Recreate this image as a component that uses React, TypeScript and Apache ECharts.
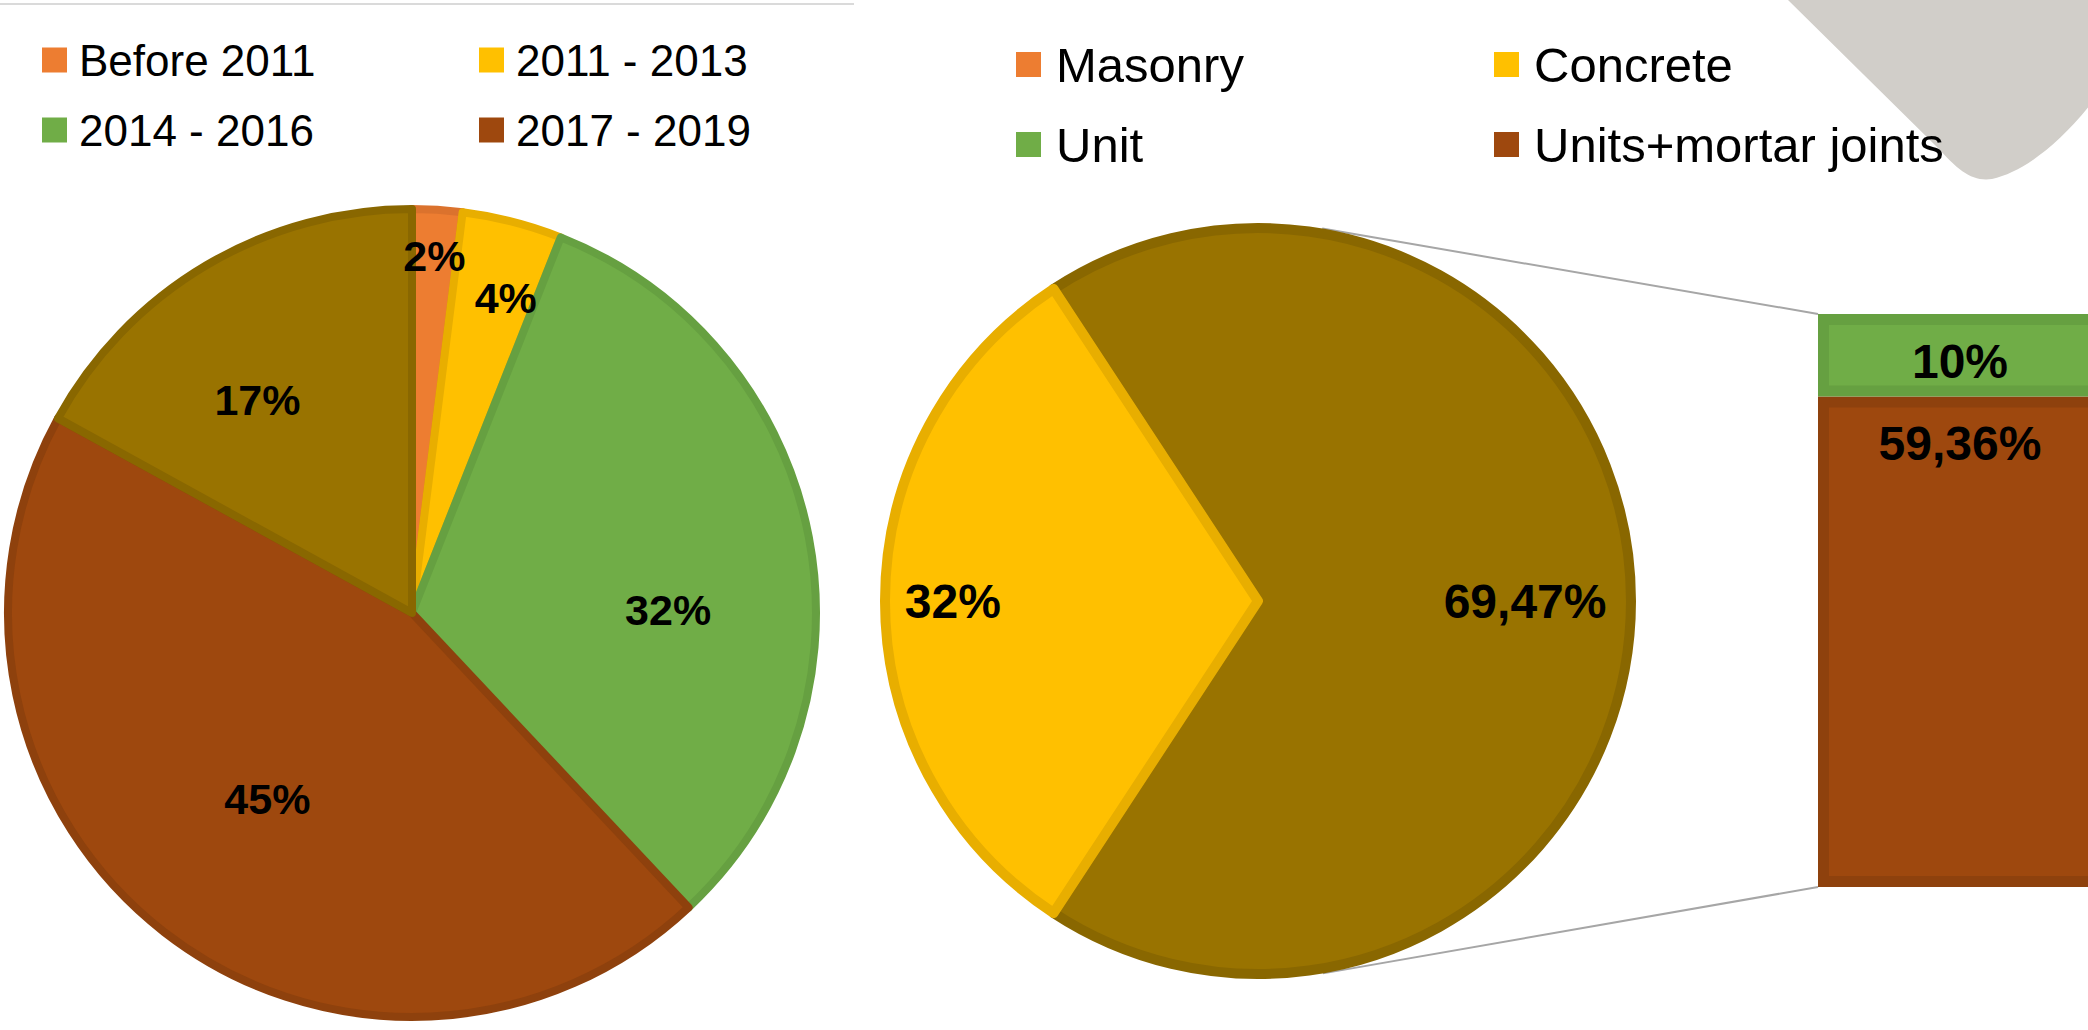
import React, { useEffect, useRef } from "react";
import * as echarts from "echarts";

// ---------- DATA ----------
const leftCategories = ["Before 2011", "2011 - 2013", "2014 - 2016", "2017 - 2019", "Other"];
const leftValues = [2, 4, 32, 45, 17];

const rightPieCategories = ["Other", "Concrete"];
const rightPieValues = [69.47, 32];

const barCategories = ["Units+mortar joints", "Unit", "Masonry"];
const barValues: (number | null)[] = [59.36, 10, null];

const leftLegendCols = [
  ["Before 2011", "2014 - 2016"],
  ["2011 - 2013", "2017 - 2019"],
];
const rightLegendCols = [
  ["Masonry", "Unit"],
  ["Concrete", "Units+mortar joints"],
];

// ---------- STYLE / LAYOUT ----------
const FONT = "'Liberation Sans', Arial, Helvetica, sans-serif";
const FILL: Record<string, string> = {
  "Before 2011": "#ED7D31",
  "2011 - 2013": "#FFC000",
  "2014 - 2016": "#70AD47",
  "2017 - 2019": "#9E480E",
  Other: "#997300",
  Masonry: "#ED7D31",
  Concrete: "#FFC000",
  Unit: "#70AD47",
  "Units+mortar joints": "#9E480E",
};
const EDGE: Record<string, string> = {
  "Before 2011": "#DB722D",
  "2011 - 2013": "#E8AE00",
  "2014 - 2016": "#66A041",
  "2017 - 2019": "#8E410D",
  Other: "#896700",
  Masonry: "#DB722D",
  Concrete: "#E8AE00",
  Unit: "#66A041",
  "Units+mortar joints": "#8E410D",
};

const LEFT_PIE = { cx: 412, cy: 613, r: 404, border: 8, font: 43 };
const RIGHT_PIE = { cx: 1258, cy: 601, r: 373, border: 10, font: 48 };
// bar: left edge, top edge, full width (runs past the picture's right edge), width the labels centre on
const BAR = { left: 1818, top: 314, width: 340, labelWidth: 284, height: 573, border: 11, font: 48 };
// label placement inside the pies: fraction of radius, and angular nudge (in value units)
const leftLabelRadius = [0.885, 0.814, 0.634, 0.584, 0.651];
const leftLabelNudge = [0, 0.6, 2.8, 0, -1.5];
const rightLabelRadius = [0.716, 0.818];

const SHAPE_D =
  "M1788,0 L1938,148 C1958,170 1972,182 1992,179 C2025,172 2065,140 2100,92 L2100,0 Z";
try {
  echarts.graphic.registerShape("bgshape", echarts.graphic.extendPath(SHAPE_D, {}) as any);
} catch (e) {}

const fmt = (v: number) => String(v).replace(".", ",") + "%";

function tangentPoint(cx: number, cy: number, R: number, px: number, py: number, sign: number) {
  const dx = px - cx;
  const dy = py - cy;
  const d = Math.hypot(dx, dy);
  const ang = Math.atan2(dy, dx) + sign * Math.acos(R / d);
  return [cx + R * Math.cos(ang), cy + R * Math.sin(ang)];
}

function midValues(values: number[]) {
  const out: number[] = [];
  let acc = 0;
  values.forEach((v) => {
    out.push(acc + v / 2);
    acc += v;
  });
  return out;
}

function legendCol(data: string[], left: number, top: number, font: number, size: number, gap: number, pad: number) {
  return {
    data,
    left,
    top,
    orient: "vertical",
    icon: "rect",
    itemWidth: size,
    itemHeight: size,
    itemGap: gap,
    selectedMode: false,
    itemStyle: { borderWidth: 0 },
    textStyle: { fontSize: font, fontFamily: FONT, color: "#000", padding: [0, 0, 0, pad] },
  };
}

function labelScatter(polarIndex: number, texts: string[], radii: number[], angles: number[], font: number) {
  return {
    type: "scatter",
    coordinateSystem: "polar",
    polarIndex,
    silent: true,
    symbolSize: 1,
    itemStyle: { color: "rgba(0,0,0,0)", opacity: 1 },
    z: 6,
    data: texts.map((t, i) => ({ value: [radii[i], angles[i]], name: t })),
    label: {
      show: true,
      position: "inside",
      formatter: (p: any) => p.name,
      fontSize: font,
      fontWeight: "bold",
      fontFamily: FONT,
      color: "#000",
      opacity: 1,
    },
  };
}

export default function App() {
  const ref = useRef<HTMLDivElement>(null);

  useEffect(() => {
    if (!ref.current) return;
    const chart = echarts.init(ref.current, undefined, { renderer: "svg", width: 2088, height: 1030 });

    const leftSum = leftValues.reduce((a, b) => a + b, 0);
    const rightSum = rightPieValues.reduce((a, b) => a + b, 0);
    const rightStart = ((rightPieValues[0] / rightSum) * 360) / 2;
    const barTotal = barValues.reduce((a: number, b) => a + (b ?? 0), 0);

    const leftMids = midValues(leftValues).map((m, i) => m + leftLabelNudge[i]);
    const rightMids = midValues(rightPieValues);

    // the bar sits on the 2nd category, which is at the grid's right edge (boundaryGap false)
    const barCenter = BAR.left + BAR.width / 2;
    const gridWidth = 200;
    const gridLeft = barCenter - gridWidth;
    const labelShift = (BAR.labelWidth - BAR.width) / 2;

    const series: any[] = [];
    series.push({
      type: "pie",
      silent: true,
      center: [LEFT_PIE.cx, LEFT_PIE.cy],
      radius: [0, LEFT_PIE.r],
      startAngle: 90,
      clockwise: true,
      z: 2,
      data: leftCategories.map((n, i) => ({
        name: n,
        value: leftValues[i],
        itemStyle: { color: FILL[n], borderColor: EDGE[n], borderWidth: LEFT_PIE.border },
      })),
      label: { show: false },
      labelLine: { show: false },
    });
    series.push({
      type: "pie",
      silent: true,
      center: [RIGHT_PIE.cx, RIGHT_PIE.cy],
      radius: [0, RIGHT_PIE.r],
      startAngle: rightStart,
      clockwise: true,
      z: 2,
      data: rightPieCategories.map((n, i) => ({
        name: n,
        value: rightPieValues[i],
        itemStyle: { color: FILL[n], borderColor: EDGE[n], borderWidth: RIGHT_PIE.border },
      })),
      label: { show: false },
      labelLine: { show: false },
    });
    barCategories.forEach((n, i) => {
      series.push({
        type: "bar",
        name: n,
        stack: "bar",
        silent: true,
        clip: false,
        barWidth: BAR.width,
        data: [null, barValues[i]],
        z: 2,
        itemStyle: { color: FILL[n], borderColor: EDGE[n], borderWidth: BAR.border },
        label: {
          show: n !== "Masonry",
          position: n === "Unit" ? "inside" : "insideTop",
          distance: 23,
          offset: [labelShift, n === "Unit" ? 6 : 0],
          formatter: (p: any) => fmt(p.value),
          fontSize: BAR.font,
          fontWeight: "bold",
          fontFamily: FONT,
          color: "#000",
        },
      });
    });
    series.push(labelScatter(0, leftValues.map(fmt), leftLabelRadius, leftMids, LEFT_PIE.font));
    series.push(labelScatter(1, rightPieValues.map(fmt), rightLabelRadius, rightMids, RIGHT_PIE.font));

    // bar borders are drawn inside the bar, so its outer corners are the layout corners
    const R = RIGHT_PIE.r + RIGHT_PIE.border / 2;
    const cTop = [BAR.left, BAR.top];
    const cBot = [BAR.left, BAR.top + BAR.height];
    const tTop = tangentPoint(RIGHT_PIE.cx, RIGHT_PIE.cy, R, cTop[0], cTop[1], -1);
    const tBot = tangentPoint(RIGHT_PIE.cx, RIGHT_PIE.cy, R, cBot[0], cBot[1], 1);

    chart.setOption({
      animation: false,
      backgroundColor: "#ffffff",
      textStyle: { fontFamily: FONT },
      grid: {
        left: gridLeft,
        top: BAR.top,
        width: gridWidth,
        height: BAR.height,
        outerBoundsMode: "none",
        containLabel: false,
      },
      xAxis: { type: "category", data: ["", "Other"], boundaryGap: false, show: false },
      yAxis: { type: "value", min: 0, max: barTotal, show: false },
      polar: [
        { center: [LEFT_PIE.cx, LEFT_PIE.cy], radius: LEFT_PIE.r },
        { center: [RIGHT_PIE.cx, RIGHT_PIE.cy], radius: RIGHT_PIE.r },
      ],
      angleAxis: [
        { polarIndex: 0, type: "value", min: 0, max: leftSum, startAngle: 90, clockwise: true, show: false },
        { polarIndex: 1, type: "value", min: 0, max: rightSum, startAngle: rightStart, clockwise: true, show: false },
      ],
      radiusAxis: [
        { polarIndex: 0, type: "value", min: 0, max: 1, show: false },
        { polarIndex: 1, type: "value", min: 0, max: 1, show: false },
      ],
      legend: [
        legendCol(leftLegendCols[0], 37, 33, 44, 25, 26, 7),
        legendCol(leftLegendCols[1], 474, 33, 44, 25, 26, 7),
        legendCol(rightLegendCols[0], 1011, 35, 49, 25, 31, 10),
        legendCol(rightLegendCols[1], 1489, 35, 49, 25, 31, 10),
      ],
      graphic: {
        elements: [
          { type: "bgshape", z: 0, silent: true, style: { fill: "#D1CEC9" } },
          {
            type: "line",
            z: 0,
            silent: true,
            shape: { x1: 0, y1: 4, x2: 854, y2: 4 },
            style: { stroke: "#DADADA", lineWidth: 2 },
          },
          {
            type: "line",
            z: 1,
            silent: true,
            shape: { x1: tTop[0], y1: tTop[1], x2: cTop[0], y2: cTop[1] },
            style: { stroke: "#A6A6A6", lineWidth: 2 },
          },
          {
            type: "line",
            z: 1,
            silent: true,
            shape: { x1: tBot[0], y1: tBot[1], x2: cBot[0], y2: cBot[1] },
            style: { stroke: "#A6A6A6", lineWidth: 2 },
          },
        ],
      },
      series,
    } as any);

    return () => chart.dispose();
  }, []);

  return (
    <div
      ref={ref}
      style={{ position: "fixed", left: 0, top: 0, width: 2088, height: 1030, background: "#fff" }}
    />
  );
}
